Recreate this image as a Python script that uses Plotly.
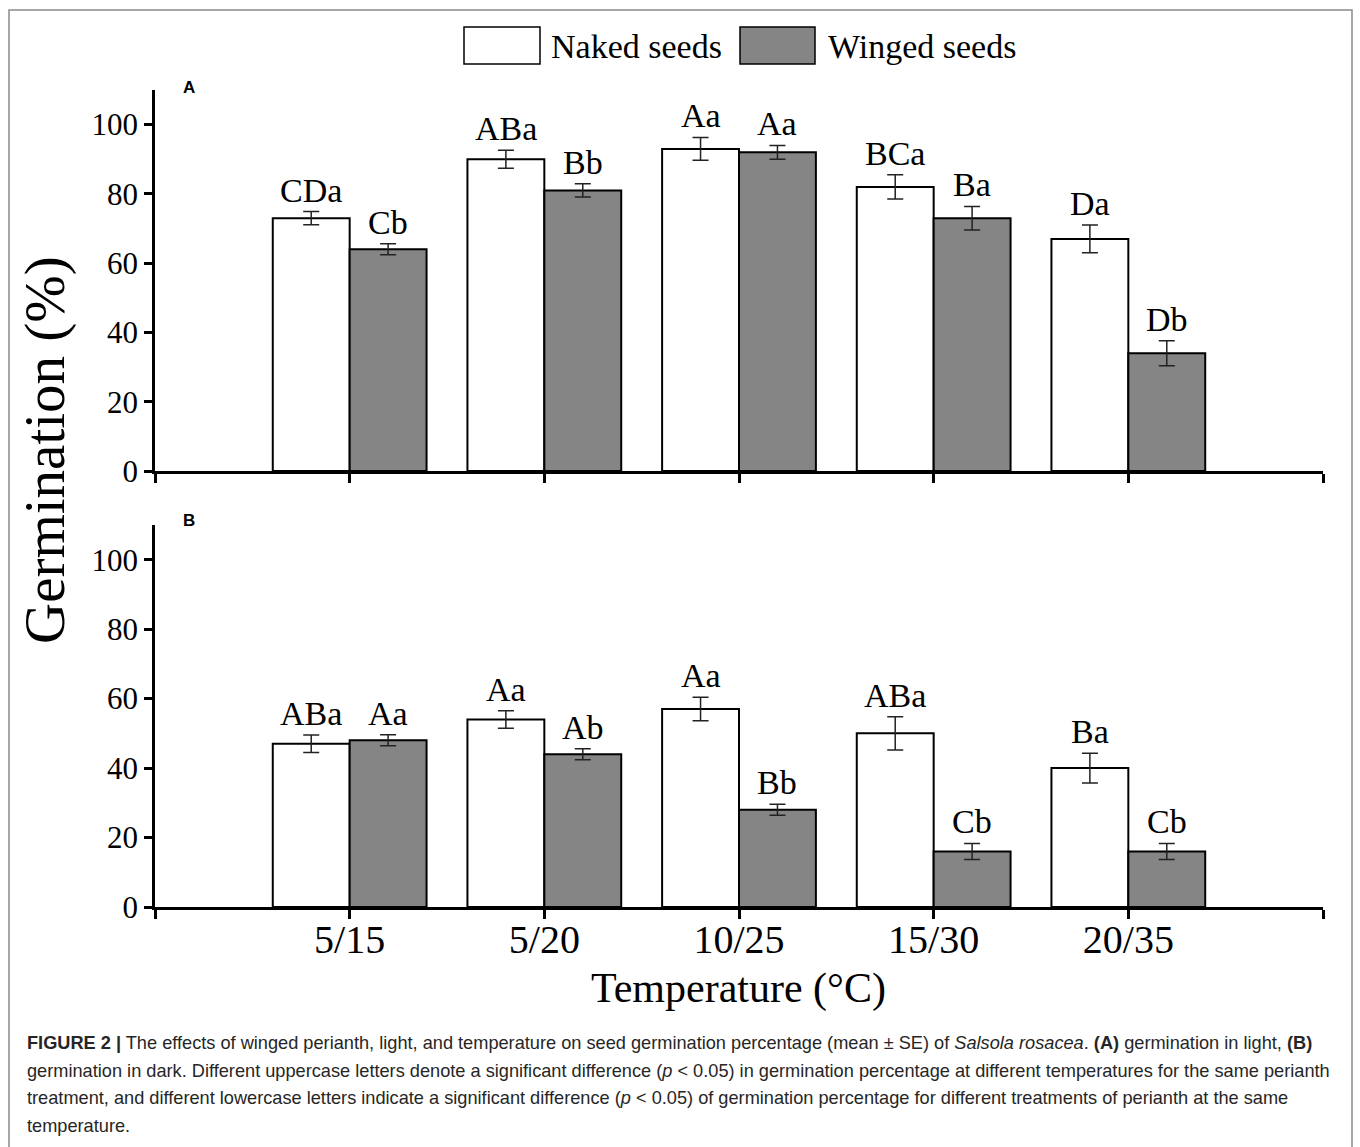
import plotly.graph_objects as go

W, H = 1360, 1147

# Temperature regimes (day/night, °C)
temperatures = ["5/15", "5/20", "10/25", "15/30", "20/35"]

# Panel A: germination in light (mean % and SE)
light_naked = [73, 90, 93, 82, 67]
light_naked_se = [1.9, 2.6, 3.3, 3.5, 4.0]
light_winged = [64, 81, 92, 73, 34]
light_winged_se = [1.6, 1.9, 2.0, 3.4, 3.6]
light_naked_lbl = ["CDa", "ABa", "Aa", "BCa", "Da"]
light_winged_lbl = ["Cb", "Bb", "Aa", "Ba", "Db"]

# Panel B: germination in dark (mean % and SE)
dark_naked = [47, 54, 57, 50, 40]
dark_naked_se = [2.5, 2.5, 3.4, 4.8, 4.3]
dark_winged = [48, 44, 28, 16, 16]
dark_winged_se = [1.6, 1.6, 1.6, 2.3, 2.3]
dark_naked_lbl = ["ABa", "Aa", "Aa", "ABa", "Ba"]
dark_winged_lbl = ["Aa", "Ab", "Bb", "Cb", "Cb"]

series_names = ["Naked seeds", "Winged seeds"]
caption_lines = [
    "<b>FIGURE 2 |</b> The effects of winged perianth, light, and temperature on seed germination percentage (mean ± SE) of <i>Salsola rosacea</i>. <b>(A)</b> germination in light, <b>(B)</b>",
    "germination in dark. Different uppercase letters denote a significant difference (<i>p</i> &lt; 0.05) in germination percentage at different temperatures for the same perianth",
    "treatment, and different lowercase letters indicate a significant difference (<i>p</i> &lt; 0.05) of germination percentage for different treatments of perianth at the same",
    "temperature.",
]

SERIF = "Liberation Serif, Times New Roman, serif"
SANS = "Liberation Sans, Arial, sans-serif"
NAKED_FILL = "#ffffff"
WINGED_FILL = "#858585"
BW = 0.395  # width of one bar in category units


def px(x):
    return x / W


def py(y):
    return 1 - y / H


x_idx = list(range(len(temperatures)))
fig = go.Figure()

panels = [
    ("x", "y", light_naked, light_naked_se, light_winged, light_winged_se, light_naked_lbl, light_winged_lbl),
    ("x2", "y2", dark_naked, dark_naked_se, dark_winged, dark_winged_se, dark_naked_lbl, dark_winged_lbl),
]

annotations = []
for xa, ya, nv, ns, wv, ws, nl, wl in panels:
    for vals, errs, fill, offset, labels in [
        (nv, ns, NAKED_FILL, -BW, nl),
        (wv, ws, WINGED_FILL, 0.0, wl),
    ]:
        fig.add_trace(go.Bar(
            x=x_idx, y=vals, width=BW, offset=offset,
            marker=dict(color=fill, line=dict(color="#000000", width=2)),
            error_y=dict(type="data", array=errs, visible=True,
                         color="#222222", thickness=1.5, width=8),
            xaxis=xa, yaxis=ya, showlegend=False,
        ))
        for i, (v, e, t) in enumerate(zip(vals, errs, labels)):
            annotations.append(dict(
                x=i + offset + BW / 2, y=v + e, xref=xa, yref=ya,
                text=t, showarrow=False, yanchor="bottom", yshift=1,
                font=dict(family=SERIF, size=34, color="#000000"),
            ))

# Axis geometry (pixels)
x_left, x_right = 155, 1323
yA_top, yA_zero = 90, 471
yB_top, yB_zero = 525, 907

tickvals = [-1, 0, 1, 2, 3, 4, 5]
ticktext = [""] + temperatures + [""]

xcommon = dict(range=[-1, 5], showline=True, linecolor="#000000", linewidth=2.5,
               ticks="outside", ticklen=9, tickwidth=2.5, tickcolor="#000000",
               tickvals=tickvals, showgrid=False, zeroline=False, automargin=False,
               domain=[px(x_left), px(x_right)])
ycommon = dict(range=[0, 110], showline=True, linecolor="#000000", linewidth=2.5,
               ticks="outside", ticklen=8, tickwidth=2.5, tickcolor="#000000",
               tickvals=[0, 20, 40, 60, 80, 100], showgrid=False, zeroline=False,
               automargin=False,
               tickfont=dict(family=SERIF, size=31, color="#000000"))

fig.update_layout(
    xaxis=dict(**xcommon, anchor="y", ticktext=[""] * 7),
    xaxis2=dict(**xcommon, anchor="y2", ticktext=ticktext, ticklabelstandoff=-14,
                tickfont=dict(family=SERIF, size=40, color="#000000")),
    yaxis=dict(**ycommon, anchor="x", domain=[py(yA_zero), py(yA_top)]),
    yaxis2=dict(**ycommon, anchor="x2", domain=[py(yB_zero), py(yB_top)]),
)

# Panel letters
for txt, yy in [("A", 88), ("B", 520)]:
    annotations.append(dict(x=px(189), y=py(yy), xref="paper", yref="paper",
                            xanchor="center", yanchor="middle",
                            text=f"<b>{txt}</b>", showarrow=False,
                            font=dict(family=SANS, size=17, color="#000000")))

# Axis titles
annotations.append(dict(x=px(45), y=py(450), xref="paper", yref="paper",
                        xanchor="center", yanchor="middle",
                        text="Germination (%)", textangle=-90, showarrow=False,
                        font=dict(family=SERIF, size=57, color="#000000")))
annotations.append(dict(x=px(739), y=py(988), xref="paper", yref="paper",
                        xanchor="center", yanchor="middle",
                        text="Temperature (°C)", showarrow=False,
                        font=dict(family=SERIF, size=42, color="#000000")))

# Legend: swatches and names
shapes = []
legend_items = [(464, 540, 549, NAKED_FILL), (740, 815, 826, WINGED_FILL)]
for (bx0, bx1, tx, fill), name in zip(legend_items, series_names):
    shapes.append(dict(type="rect", xref="paper", yref="paper",
                       x0=px(bx0), x1=px(bx1), y0=py(64), y1=py(27),
                       fillcolor=fill, line=dict(color="#000000", width=1.5)))
    annotations.append(dict(x=px(tx), y=py(46), xref="paper", yref="paper",
                            text=name, showarrow=False, xanchor="left", yanchor="middle",
                            font=dict(family=SERIF, size=34, color="#000000")))

# Outer frame
shapes.append(dict(type="rect", xref="paper", yref="paper",
                   x0=px(9), x1=px(1352), y0=py(1180), y1=py(10),
                   line=dict(color="#8a8a8a", width=1.5), fillcolor="rgba(0,0,0,0)"))

# Caption
for k, line in enumerate(caption_lines):
    annotations.append(dict(x=px(25), y=py(1043 + 27.7 * k), xref="paper", yref="paper",
                            text=line, showarrow=False, xanchor="left", yanchor="middle",
                            font=dict(family=SANS, size=18.2, color="#262626")))

fig.update_layout(
    width=W, height=H, margin=dict(l=0, r=0, t=0, b=0, autoexpand=False),
    paper_bgcolor="#ffffff", plot_bgcolor="rgba(0,0,0,0)",
    barmode="overlay", showlegend=False,
    annotations=annotations, shapes=shapes,
)

fig.write_html("out.html")
